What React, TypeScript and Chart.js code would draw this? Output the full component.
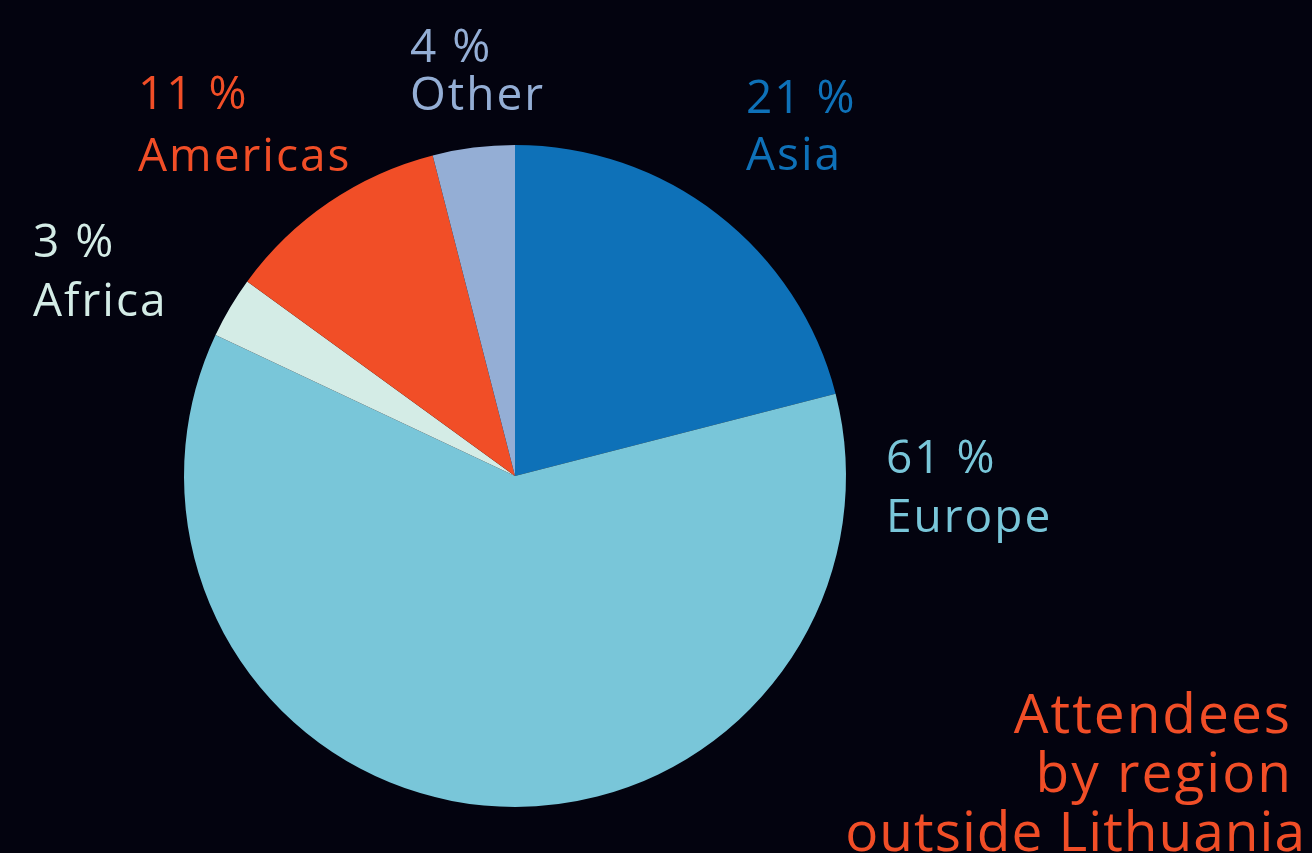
import React, { useEffect, useRef } from "react";
import { Chart, registerables } from "chart.js";

Chart.register(...registerables);

const regions = ["Asia", "Europe", "Africa", "Americas", "Other"];
const shares = [21, 61, 3, 11, 4];
const sliceColors = ["#0E71B8", "#79C6D9", "#D4ECE6", "#F14E27", "#94AED5"];
const titleLines = ["Attendees", "by region", "outside Lithuania"];

// label anchor (left x, first baseline) relative to pie center, and gap to second line
const labelOffsets: Record<string, [number, number, number]> = {
  Asia: [231, -363, 57],
  Europe: [371, -3, 59],
  Africa: [-482, -219, 59],
  Americas: [-377, -367, 62],
  Other: [-105, -414, 48],
};
const titleRight = [1292, 1293, 1306];
const titleBase = [733, 792, 851];

const BG = "#03030F";
const FONT = "'Open Sans', 'Noto Sans', sans-serif";

const labelPlugin = {
  id: "pieLabels",
  afterDraw(chart: any) {
    const ctx = chart.ctx as CanvasRenderingContext2D;
    const meta = chart.getDatasetMeta(0);
    const arc = meta.data[0];
    const cx = arc.x;
    const cy = arc.y;
    ctx.save();
    ctx.textBaseline = "alphabetic";
    ctx.textAlign = "left";
    ctx.font = `400 46px ${FONT}`;
    (ctx as any).letterSpacing = "2px";
    regions.forEach((r, i) => {
      const [dx, dy, gap] = labelOffsets[r];
      ctx.fillStyle = sliceColors[i];
      ctx.fillText(`${shares[i]} %`, cx + dx, cy + dy);
      ctx.fillText(r, cx + dx, cy + dy + gap);
    });
    // title
    ctx.fillStyle = "#F14E27";
    ctx.textAlign = "right";
    ctx.font = `400 55px ${FONT}`;
    titleLines.forEach((t, i) => {
      (ctx as any).letterSpacing = i === 2 ? "1px" : "2px";
      ctx.fillText(t, titleRight[i], titleBase[i]);
    });
    ctx.restore();
  },
};

export default function App() {
  const ref = useRef<HTMLCanvasElement>(null);
  useEffect(() => {
    document.body.style.margin = "0";
    document.body.style.background = BG;
    const chart = new Chart(ref.current!, {
      type: "pie",
      data: {
        labels: regions,
        datasets: [
          {
            data: shares,
            backgroundColor: sliceColors,
            borderWidth: 0,
          },
        ],
      },
      options: {
        responsive: false,
        animation: false,
        layout: { padding: { left: 184, right: 466, top: 145, bottom: 46 } },
        plugins: {
          legend: { display: false },
          tooltip: { enabled: false },
          title: { display: false },
        },
      },
      plugins: [labelPlugin],
    });
    return () => chart.destroy();
  }, []);
  return (
    <div style={{ width: 1312, height: 853, background: BG, overflow: "hidden" }}>
      <canvas ref={ref} width={1312} height={853} style={{ display: "block" }} />
    </div>
  );
}
